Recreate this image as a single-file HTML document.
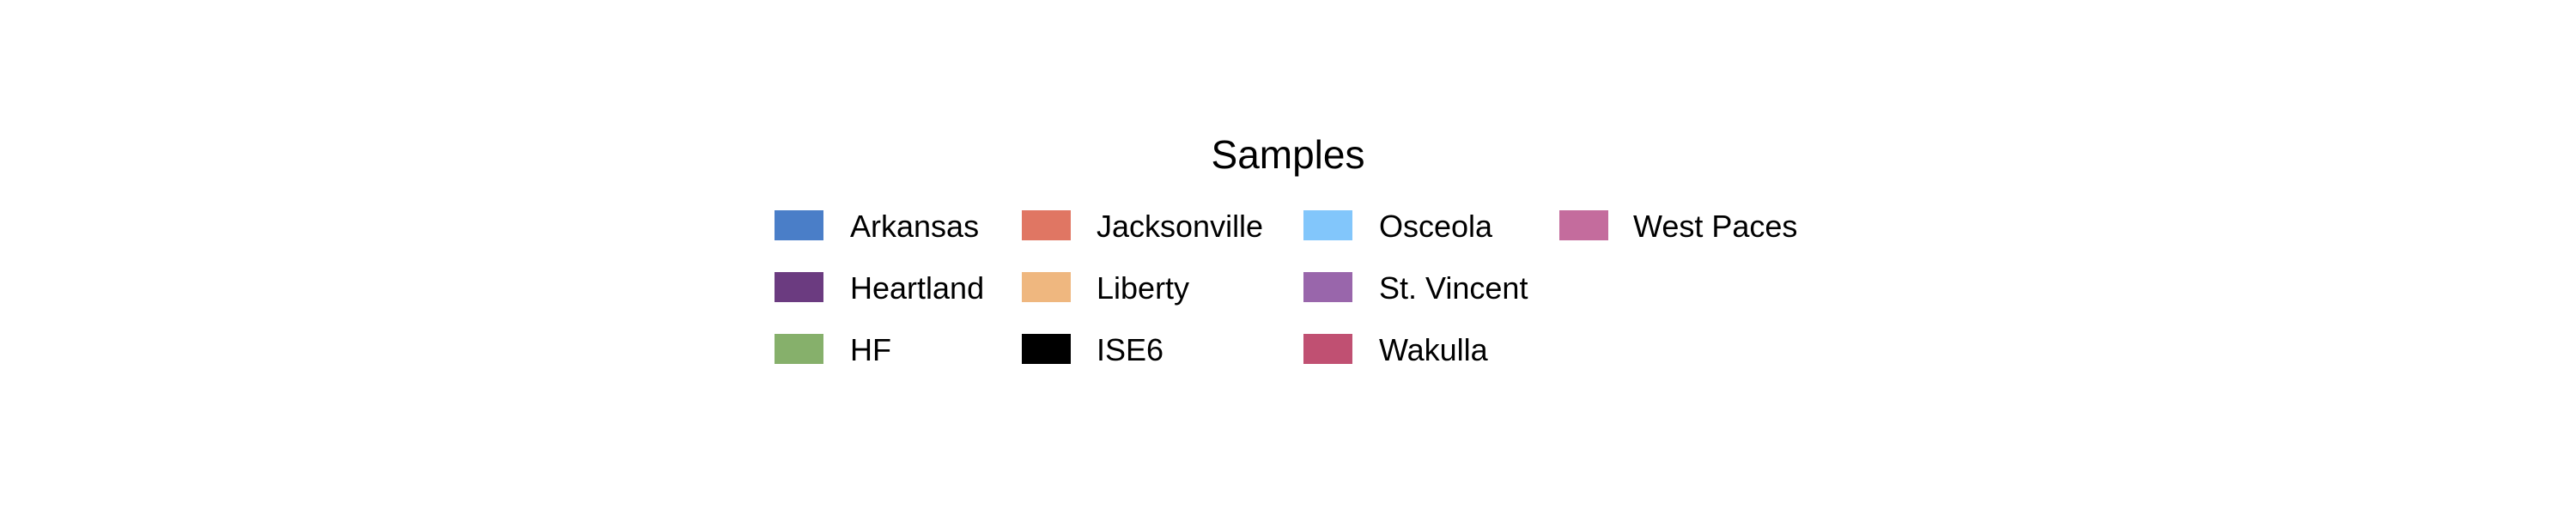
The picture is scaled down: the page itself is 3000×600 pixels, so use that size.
<!DOCTYPE html>
<html><head><meta charset="utf-8"><style>
html,body{margin:0;padding:0;background:#fff;}
#c{position:relative;width:3000px;height:600px;overflow:hidden;font-family:"Liberation Sans",sans-serif;color:#000;}
.t{position:absolute;font-size:46px;left:1500px;top:157px;transform:translateX(-50%);white-space:nowrap;line-height:1;}
.sw{position:absolute;width:57px;height:35px;}
.lb{position:absolute;font-size:36px;line-height:1;white-space:nowrap;}
</style></head><body>
<div id="c">
<div class="t">Samples</div>
</div>
<script>
const labels=["Arkansas","Heartland","HF","Jacksonville","Liberty","ISE6","Osceola","St. Vincent","Wakulla","West Paces"];
const colors=["#4a7ec8","#6b3b80","#86b06b","#e07663","#efb77f","#000000","#82c6fb","#9966ab","#c05072","#c46c9d"];
const swX=[902,1190,1518,1816], txX=[990,1277,1606,1902], rowY=[245,317,389];
const c=document.getElementById('c');
labels.forEach((l,i)=>{
  const col=Math.floor(i/3), row=i%3;
  const s=document.createElement('div');s.className='sw';
  s.style.left=swX[col]+'px';s.style.top=rowY[row]+'px';s.style.background=colors[i];
  
  
  c.appendChild(s);
  const t=document.createElement('div');t.className='lb';
  t.style.left=txX[col]+'px';t.style.top=(rowY[row]+1)+'px';t.textContent=l;
  
  
  c.appendChild(t);
});
</script>
</body></html>
